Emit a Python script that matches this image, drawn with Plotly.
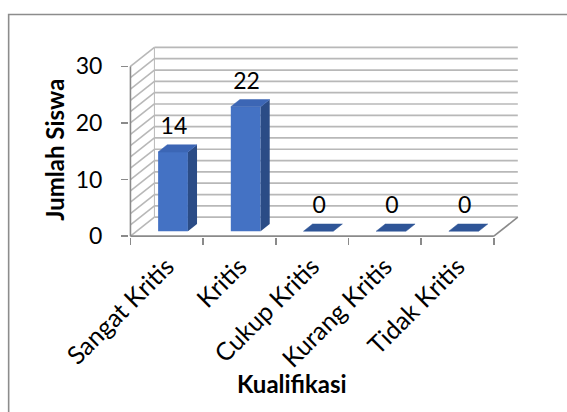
import plotly.graph_objects as go

# ---------------- data ----------------
categories = ["Sangat Kritis", "Kritis", "Cukup Kritis", "Kurang Kritis", "Tidak Kritis"]
values = [14, 22, 0, 0, 0]
y_ticks = [0, 10, 20, 30]
grid_step = 2
y_top = 30
x_title = "Kualifikasi"
y_title = "Jumlah Siswa"

# ---------------- geometry (pixels) ----------------
W, H = 567, 412
PX_LEFT = 130        # front value axis
PX_CAT = 72.8        # width of one category
PX_Y0 = 236          # value 0 on the front plane
PX_UNIT = 5.667      # pixels per value unit
DEPTH_DX_PX = 24
DEPTH_DY_PX = 19

DX = DEPTH_DX_PX / PX_CAT     # depth offset in category units
DY = DEPTH_DY_PX / PX_UNIT    # depth offset in value units
n = len(categories)
X_MIN = -0.52
X_MAX = n - 0.5 + DX + 0.03
Y_MIN = -0.15
Y_MAX = y_top + DY + 0.6

plot_w = (X_MAX - X_MIN) * PX_CAT
plot_h = (Y_MAX - Y_MIN) * PX_UNIT
m_l = PX_LEFT - (-0.5 - X_MIN) * PX_CAT
m_r = W - m_l - plot_w
m_b = H - (PX_Y0 - Y_MIN * PX_UNIT)
m_t = H - m_b - plot_h


def px_x(px):
    return (px - m_l) / plot_w


def px_y(py):
    return (H - m_b - py) / plot_h


def P(x, y, d):
    return x + d * DX, y + d * DY


D0, D1 = 0.26, 0.64   # bar depth (fraction of floor depth)
BW = 0.41             # bar width (category units)

FONT = "Lato"
GRID = "#B8B8B8"
AXIS = "#8A8A8A"
FRONT = "#4472C4"
SIDE = "#2B4C86"
TOP = "#3C66B5"
TOP_ZERO = "#2F5597"

shapes = []
# back wall + left wall gridlines
for v in range(0, y_top + 1, grid_step):
    x0, y0 = P(-0.5, v, 1)
    x1, y1 = P(n - 0.5, v, 1)
    shapes.append(dict(type="line", xref="x", yref="y", x0=x0, y0=y0, x1=x1, y1=y1,
                       line=dict(color=GRID, width=1.7), layer="below"))
    shapes.append(dict(type="line", xref="x", yref="y", x0=-0.5, y0=v, x1=x0, y1=y0,
                       line=dict(color=GRID, width=1.6), layer="below"))
# back wall left vertical edge
bx, by = P(-0.5, 0, 1)
shapes.append(dict(type="line", xref="x", yref="y", x0=bx, y0=by, x1=bx, y1=y_top + DY,
                   line=dict(color=GRID, width=1.0), layer="below"))
# front axes + floor right edge
shapes.append(dict(type="line", xref="x", yref="y", x0=-0.5, y0=0, x1=-0.5, y1=y_top,
                   line=dict(color=AXIS, width=1.6), layer="below"))
shapes.append(dict(type="line", xref="x", yref="y", x0=-0.5, y0=0, x1=n - 0.5, y1=0,
                   line=dict(color=AXIS, width=1.6), layer="below"))
rx, ry = P(n - 0.5, 0, 1)
shapes.append(dict(type="line", xref="x", yref="y", x0=n - 0.5, y0=0, x1=rx, y1=ry,
                   line=dict(color=AXIS, width=1.6), layer="below"))
# outer chart border (top-left part visible)
shapes.append(dict(type="rect", xref="paper", yref="paper",
                   x0=px_x(8), y0=px_y(430), x1=px_x(590), y1=px_y(14),
                   line=dict(color="#8C8C8C", width=1.6), fillcolor="rgba(0,0,0,0)",
                   layer="below"))

fig = go.Figure()

# front faces
fig.add_trace(go.Bar(
    x=[i + D0 * DX for i in range(n)], y=values, base=D0 * DY, width=BW,
    marker=dict(color=FRONT, line=dict(width=0)), showlegend=False, hoverinfo="skip",
))

# side and top faces
for i, v in enumerate(values):
    xl, xr = i - BW / 2, i + BW / 2
    if v > 0:
        pts = [P(xr, 0, D0), P(xr, 0, D1), P(xr, v, D1), P(xr, v, D0), P(xr, 0, D0)]
        fig.add_trace(go.Scatter(x=[p[0] for p in pts], y=[p[1] for p in pts], mode="lines",
                                 fill="toself", fillcolor=SIDE, line=dict(width=0, color=SIDE),
                                 showlegend=False, hoverinfo="skip"))
    pts = [P(xl, v, D0), P(xr, v, D0), P(xr, v, D1), P(xl, v, D1), P(xl, v, D0)]
    c = TOP if v > 0 else TOP_ZERO
    fig.add_trace(go.Scatter(x=[p[0] for p in pts], y=[p[1] for p in pts], mode="lines",
                             fill="toself", fillcolor=c, line=dict(width=0.5, color=c),
                             showlegend=False, hoverinfo="skip"))

# data labels (on the overlay axis that carries category labels)
fig.add_trace(go.Scatter(
    x=[i + D0 * DX + BW * 0.03 for i in range(n)], y=[v + D1 * DY + 0.9 for v in values],
    mode="text", text=[str(v) for v in values], textposition="top center",
    textfont=dict(family=FONT, size=23, color="#000000"),
    xaxis="x2", yaxis="y", showlegend=False, hoverinfo="skip", cliponaxis=False,
))

fig.update_layout(
    width=W, height=H,
    margin=dict(l=m_l, r=m_r, t=m_t, b=m_b, autoexpand=False),
    paper_bgcolor="white", plot_bgcolor="white",
    font=dict(family=FONT, color="#000000"),
    showlegend=False,
    shapes=shapes,
    xaxis=dict(range=[X_MIN, X_MAX], tickvals=[i - 0.5 for i in range(n + 1)],
               ticks="outside", ticklen=7, tickwidth=1.5, tickcolor=AXIS,
               showticklabels=False, showgrid=False, zeroline=False, showline=False,
               fixedrange=True, automargin=False),
    xaxis2=dict(range=[X_MIN, X_MAX], overlaying="x", anchor="y", side="bottom",
                tickvals=list(range(n)), ticktext=categories, tickangle=-45,
                ticks="", ticklabelstandoff=9,
                tickfont=dict(family=FONT, size=25, color="#000000"),
                showgrid=False, zeroline=False, showline=False, automargin=False),
    yaxis=dict(range=[Y_MIN, Y_MAX], tickvals=y_ticks, ticks="outside", ticklen=7,
               tickwidth=1.5, tickcolor=AXIS, ticklabelstandoff=14,
               tickfont=dict(family=FONT, size=23, color="#000000"),
               showgrid=False, zeroline=False, showline=False, automargin=False),
    annotations=[
        dict(text=f"<b>{y_title}</b>", xref="paper", yref="paper",
             x=px_x(54), y=px_y(150), textangle=-90, showarrow=False,
             xanchor="center", yanchor="middle",
             font=dict(family=FONT, size=24, color="#000000")),
        dict(text=f"<b>{x_title}</b>", xref="paper", yref="paper",
             x=px_x(292), y=px_y(384), showarrow=False,
             xanchor="center", yanchor="middle",
             font=dict(family=FONT, size=24, color="#000000")),
    ],
)

fig.write_html("out.html",
               config={"displayModeBar": False, "staticPlot": True},
               post_script="document.body.style.margin='0px';document.body.style.overflow='hidden';")
